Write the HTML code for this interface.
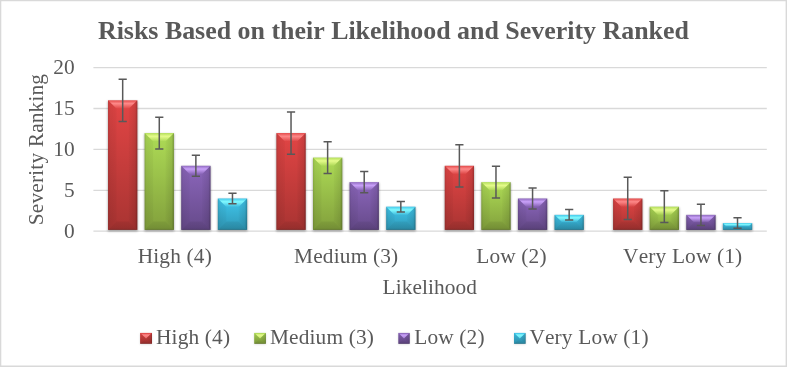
<!DOCTYPE html>
<html><head><meta charset="utf-8"><title>Risks Based on their Likelihood and Severity Ranked</title>
<style>
html,body{margin:0;padding:0;background:#fff;}
body{width:787px;height:367px;overflow:hidden;}
svg{display:block;font-family:"Liberation Serif","Times New Roman",serif;fill:#595959;font-kerning:none;}
</style></head><body>
<svg width="787" height="367" viewBox="0 0 787 367">
<defs>
<filter id="sh2" x="-30%" y="-30%" width="160%" height="160%"><feGaussianBlur stdDeviation="0.8"/></filter>
<filter id="sh" x="-30%" y="-30%" width="160%" height="160%"><feGaussianBlur stdDeviation="1.3"/></filter>
<linearGradient id="hiTop" x1="0" y1="0" x2="0" y2="1"><stop offset="0" stop-color="#fff" stop-opacity="0.10"/><stop offset="0.35" stop-color="#fff" stop-opacity="0.20"/><stop offset="1" stop-color="#fff" stop-opacity="0.02"/></linearGradient>
<linearGradient id="shR" x1="0" y1="0" x2="1" y2="0"><stop offset="0" stop-color="#000" stop-opacity="0.02"/><stop offset="0.75" stop-color="#000" stop-opacity="0.10"/><stop offset="1" stop-color="#000" stop-opacity="0.30"/></linearGradient>
<linearGradient id="mR" x1="0" y1="0" x2="1" y2="0"><stop offset="0" stop-color="#000" stop-opacity="0.08"/><stop offset="0.8" stop-color="#000" stop-opacity="0.16"/><stop offset="1" stop-color="#000" stop-opacity="0.32"/></linearGradient>
<linearGradient id="mB" x1="0" y1="0" x2="0" y2="1"><stop offset="0" stop-color="#000" stop-opacity="0.06"/><stop offset="0.8" stop-color="#000" stop-opacity="0.14"/><stop offset="1" stop-color="#000" stop-opacity="0.30"/></linearGradient>
<linearGradient id="shL" x1="0" y1="0" x2="1" y2="0"><stop offset="0" stop-color="#000" stop-opacity="0.17"/><stop offset="0.22" stop-color="#000" stop-opacity="0.07"/><stop offset="1" stop-color="#000" stop-opacity="0.03"/></linearGradient>
<linearGradient id="shB" x1="0" y1="0" x2="0" y2="1"><stop offset="0" stop-color="#000" stop-opacity="0.06"/><stop offset="0.8" stop-color="#000" stop-opacity="0.11"/><stop offset="1" stop-color="#000" stop-opacity="0.24"/></linearGradient>
<linearGradient id="g_red" x1="0" y1="0" x2="0" y2="1"><stop offset="0" stop-color="#e24545"/><stop offset="1" stop-color="#a93432"/></linearGradient>
<linearGradient id="m_red" x1="0" y1="0" x2="0" y2="1"><stop offset="0" stop-color="#ff8c8c" stop-opacity="0.25"/><stop offset="0.3" stop-color="#ff8c8c" stop-opacity="0.95"/><stop offset="1" stop-color="#ff8c8c" stop-opacity="0.55"/></linearGradient>
<linearGradient id="h_red" x1="0" y1="0" x2="0" y2="1"><stop offset="0" stop-color="#ff8c8c" stop-opacity="0.05"/><stop offset="0.12" stop-color="#ff8c8c" stop-opacity="0.35"/><stop offset="0.38" stop-color="#ff8c8c" stop-opacity="0.95"/><stop offset="1" stop-color="#ff8c8c" stop-opacity="0"/></linearGradient>
<linearGradient id="g_green" x1="0" y1="0" x2="0" y2="1"><stop offset="0" stop-color="#aedc56"/><stop offset="1" stop-color="#82a03c"/></linearGradient>
<linearGradient id="m_green" x1="0" y1="0" x2="0" y2="1"><stop offset="0" stop-color="#e8fd8e" stop-opacity="0.25"/><stop offset="0.3" stop-color="#e8fd8e" stop-opacity="0.95"/><stop offset="1" stop-color="#e8fd8e" stop-opacity="0.55"/></linearGradient>
<linearGradient id="h_green" x1="0" y1="0" x2="0" y2="1"><stop offset="0" stop-color="#e8fd8e" stop-opacity="0.05"/><stop offset="0.12" stop-color="#e8fd8e" stop-opacity="0.35"/><stop offset="0.38" stop-color="#e8fd8e" stop-opacity="0.95"/><stop offset="1" stop-color="#e8fd8e" stop-opacity="0"/></linearGradient>
<linearGradient id="g_purple" x1="0" y1="0" x2="0" y2="1"><stop offset="0" stop-color="#8b66bb"/><stop offset="1" stop-color="#664a8a"/></linearGradient>
<linearGradient id="m_purple" x1="0" y1="0" x2="0" y2="1"><stop offset="0" stop-color="#cca4fc" stop-opacity="0.25"/><stop offset="0.3" stop-color="#cca4fc" stop-opacity="0.95"/><stop offset="1" stop-color="#cca4fc" stop-opacity="0.55"/></linearGradient>
<linearGradient id="h_purple" x1="0" y1="0" x2="0" y2="1"><stop offset="0" stop-color="#cca4fc" stop-opacity="0.05"/><stop offset="0.12" stop-color="#cca4fc" stop-opacity="0.35"/><stop offset="0.38" stop-color="#cca4fc" stop-opacity="0.95"/><stop offset="1" stop-color="#cca4fc" stop-opacity="0"/></linearGradient>
<linearGradient id="g_cyan" x1="0" y1="0" x2="0" y2="1"><stop offset="0" stop-color="#40c6ec"/><stop offset="1" stop-color="#2f98b6"/></linearGradient>
<linearGradient id="m_cyan" x1="0" y1="0" x2="0" y2="1"><stop offset="0" stop-color="#84fcff" stop-opacity="0.25"/><stop offset="0.3" stop-color="#84fcff" stop-opacity="0.95"/><stop offset="1" stop-color="#84fcff" stop-opacity="0.55"/></linearGradient>
<linearGradient id="h_cyan" x1="0" y1="0" x2="0" y2="1"><stop offset="0" stop-color="#84fcff" stop-opacity="0.05"/><stop offset="0.12" stop-color="#84fcff" stop-opacity="0.35"/><stop offset="0.38" stop-color="#84fcff" stop-opacity="0.95"/><stop offset="1" stop-color="#84fcff" stop-opacity="0"/></linearGradient>
</defs>
<path d="M0 0H787V367H0Z M1.3 1.2V365.4H785.6V1.2Z" fill="#d9d9d9" fill-rule="evenodd"/>
<line x1="93.4" x2="766.8" y1="231.20" y2="231.20" stroke="#d9d9d9" stroke-width="1.33"/>
<line x1="93.4" x2="766.8" y1="190.30" y2="190.30" stroke="#d9d9d9" stroke-width="1.33"/>
<line x1="93.4" x2="766.8" y1="149.40" y2="149.40" stroke="#d9d9d9" stroke-width="1.33"/>
<line x1="93.4" x2="766.8" y1="108.50" y2="108.50" stroke="#d9d9d9" stroke-width="1.33"/>
<line x1="93.4" x2="766.8" y1="67.60" y2="67.60" stroke="#d9d9d9" stroke-width="1.33"/>
<text x="393.4" y="38.6" text-anchor="middle" font-size="25.92" font-weight="bold">Risks Based on their Likelihood and Severity Ranked</text>
<text x="74.6" y="237.80" text-anchor="end" font-size="21.33">0</text>
<text x="74.6" y="196.90" text-anchor="end" font-size="21.33">5</text>
<text x="74.6" y="156.00" text-anchor="end" font-size="21.33">10</text>
<text x="74.6" y="115.10" text-anchor="end" font-size="21.33">15</text>
<text x="74.6" y="74.20" text-anchor="end" font-size="21.33">20</text>
<text transform="translate(42.7,149.5) rotate(-90)" text-anchor="middle" font-size="21.33" letter-spacing="0.17">Severity Ranking</text>
<g><rect x="107.74" y="101.12" width="29.88" height="130.18" fill="#000" opacity="0.33" filter="url(#sh)"/><rect x="108.04" y="100.32" width="29.28" height="129.58" fill="url(#g_red)"/><polygon points="108.04,100.32 137.32,100.32 128.82,108.82 116.54,108.82" fill="url(#h_red)"/><polygon points="108.04,100.32 116.54,108.82 116.54,221.40 108.04,229.90" fill="url(#shL)"/><polygon points="137.32,100.32 137.32,229.90 128.82,221.40 128.82,108.82" fill="url(#shR)"/><polygon points="108.04,229.90 116.54,221.40 128.82,221.40 137.32,229.90" fill="url(#shB)"/></g>
<g><rect x="144.34" y="133.84" width="29.88" height="97.46" fill="#000" opacity="0.33" filter="url(#sh)"/><rect x="144.64" y="133.04" width="29.28" height="96.86" fill="url(#g_green)"/><polygon points="144.64,133.04 173.92,133.04 165.42,141.54 153.14,141.54" fill="url(#h_green)"/><polygon points="144.64,133.04 153.14,141.54 153.14,221.40 144.64,229.90" fill="url(#shL)"/><polygon points="173.92,133.04 173.92,229.90 165.42,221.40 165.42,141.54" fill="url(#shR)"/><polygon points="144.64,229.90 153.14,221.40 165.42,221.40 173.92,229.90" fill="url(#shB)"/></g>
<g><rect x="180.93" y="166.56" width="29.88" height="64.74" fill="#000" opacity="0.33" filter="url(#sh)"/><rect x="181.23" y="165.76" width="29.28" height="64.14" fill="url(#g_purple)"/><polygon points="181.23,165.76 210.51,165.76 202.01,174.26 189.73,174.26" fill="url(#h_purple)"/><polygon points="181.23,165.76 189.73,174.26 189.73,221.40 181.23,229.90" fill="url(#shL)"/><polygon points="210.51,165.76 210.51,229.90 202.01,221.40 202.01,174.26" fill="url(#shR)"/><polygon points="181.23,229.90 189.73,221.40 202.01,221.40 210.51,229.90" fill="url(#shB)"/></g>
<g><rect x="217.53" y="199.28" width="29.88" height="32.02" fill="#000" opacity="0.33" filter="url(#sh)"/><rect x="217.83" y="198.48" width="29.28" height="31.42" fill="url(#g_cyan)"/><polygon points="217.83,198.48 247.11,198.48 238.61,206.98 226.33,206.98" fill="url(#h_cyan)"/><polygon points="217.83,198.48 226.33,206.98 226.33,221.40 217.83,229.90" fill="url(#shL)"/><polygon points="247.11,198.48 247.11,229.90 238.61,221.40 238.61,206.98" fill="url(#shR)"/><polygon points="217.83,229.90 226.33,221.40 238.61,221.40 247.11,229.90" fill="url(#shB)"/></g>
<path d="M122.68 79.20V121.44M118.58 79.20H126.78M118.58 121.44H126.78" stroke="#595959" stroke-width="1.5" fill="none"/>
<path d="M159.28 117.20V148.88M155.18 117.20H163.38M155.18 148.88H163.38" stroke="#595959" stroke-width="1.5" fill="none"/>
<path d="M195.87 155.20V176.32M191.77 155.20H199.97M191.77 176.32H199.97" stroke="#595959" stroke-width="1.5" fill="none"/>
<path d="M232.47 193.20V203.76M228.37 193.20H236.57M228.37 203.76H236.57" stroke="#595959" stroke-width="1.5" fill="none"/>
<g><rect x="276.09" y="133.84" width="29.88" height="97.46" fill="#000" opacity="0.33" filter="url(#sh)"/><rect x="276.39" y="133.04" width="29.28" height="96.86" fill="url(#g_red)"/><polygon points="276.39,133.04 305.67,133.04 297.17,141.54 284.89,141.54" fill="url(#h_red)"/><polygon points="276.39,133.04 284.89,141.54 284.89,221.40 276.39,229.90" fill="url(#shL)"/><polygon points="305.67,133.04 305.67,229.90 297.17,221.40 297.17,141.54" fill="url(#shR)"/><polygon points="276.39,229.90 284.89,221.40 297.17,221.40 305.67,229.90" fill="url(#shB)"/></g>
<g><rect x="312.69" y="158.38" width="29.88" height="72.92" fill="#000" opacity="0.33" filter="url(#sh)"/><rect x="312.99" y="157.58" width="29.28" height="72.32" fill="url(#g_green)"/><polygon points="312.99,157.58 342.27,157.58 333.77,166.08 321.49,166.08" fill="url(#h_green)"/><polygon points="312.99,157.58 321.49,166.08 321.49,221.40 312.99,229.90" fill="url(#shL)"/><polygon points="342.27,157.58 342.27,229.90 333.77,221.40 333.77,166.08" fill="url(#shR)"/><polygon points="312.99,229.90 321.49,221.40 333.77,221.40 342.27,229.90" fill="url(#shB)"/></g>
<g><rect x="349.28" y="182.92" width="29.88" height="48.38" fill="#000" opacity="0.33" filter="url(#sh)"/><rect x="349.58" y="182.12" width="29.28" height="47.78" fill="url(#g_purple)"/><polygon points="349.58,182.12 378.86,182.12 370.36,190.62 358.08,190.62" fill="url(#h_purple)"/><polygon points="349.58,182.12 358.08,190.62 358.08,221.40 349.58,229.90" fill="url(#shL)"/><polygon points="378.86,182.12 378.86,229.90 370.36,221.40 370.36,190.62" fill="url(#shR)"/><polygon points="349.58,229.90 358.08,221.40 370.36,221.40 378.86,229.90" fill="url(#shB)"/></g>
<g><rect x="385.88" y="207.46" width="29.88" height="23.84" fill="#000" opacity="0.33" filter="url(#sh)"/><rect x="386.18" y="206.66" width="29.28" height="23.24" fill="url(#g_cyan)"/><polygon points="386.18,206.66 415.46,206.66 406.96,215.16 394.68,215.16" fill="url(#h_cyan)"/><polygon points="386.18,206.66 394.68,215.16 394.68,221.40 386.18,229.90" fill="url(#shL)"/><polygon points="415.46,206.66 415.46,229.90 406.96,221.40 406.96,215.16" fill="url(#shR)"/><polygon points="386.18,229.90 394.68,221.40 406.96,221.40 415.46,229.90" fill="url(#shB)"/></g>
<path d="M291.03 111.92V154.16M286.93 111.92H295.13M286.93 154.16H295.13" stroke="#595959" stroke-width="1.5" fill="none"/>
<path d="M327.63 141.74V173.42M323.53 141.74H331.73M323.53 173.42H331.73" stroke="#595959" stroke-width="1.5" fill="none"/>
<path d="M364.22 171.56V192.68M360.12 171.56H368.32M360.12 192.68H368.32" stroke="#595959" stroke-width="1.5" fill="none"/>
<path d="M400.82 201.38V211.94M396.72 201.38H404.92M396.72 211.94H404.92" stroke="#595959" stroke-width="1.5" fill="none"/>
<g><rect x="444.44" y="166.56" width="29.88" height="64.74" fill="#000" opacity="0.33" filter="url(#sh)"/><rect x="444.74" y="165.76" width="29.28" height="64.14" fill="url(#g_red)"/><polygon points="444.74,165.76 474.02,165.76 465.52,174.26 453.24,174.26" fill="url(#h_red)"/><polygon points="444.74,165.76 453.24,174.26 453.24,221.40 444.74,229.90" fill="url(#shL)"/><polygon points="474.02,165.76 474.02,229.90 465.52,221.40 465.52,174.26" fill="url(#shR)"/><polygon points="444.74,229.90 453.24,221.40 465.52,221.40 474.02,229.90" fill="url(#shB)"/></g>
<g><rect x="481.04" y="182.92" width="29.88" height="48.38" fill="#000" opacity="0.33" filter="url(#sh)"/><rect x="481.34" y="182.12" width="29.28" height="47.78" fill="url(#g_green)"/><polygon points="481.34,182.12 510.62,182.12 502.12,190.62 489.84,190.62" fill="url(#h_green)"/><polygon points="481.34,182.12 489.84,190.62 489.84,221.40 481.34,229.90" fill="url(#shL)"/><polygon points="510.62,182.12 510.62,229.90 502.12,221.40 502.12,190.62" fill="url(#shR)"/><polygon points="481.34,229.90 489.84,221.40 502.12,221.40 510.62,229.90" fill="url(#shB)"/></g>
<g><rect x="517.63" y="199.28" width="29.88" height="32.02" fill="#000" opacity="0.33" filter="url(#sh)"/><rect x="517.93" y="198.48" width="29.28" height="31.42" fill="url(#g_purple)"/><polygon points="517.93,198.48 547.21,198.48 538.71,206.98 526.43,206.98" fill="url(#h_purple)"/><polygon points="517.93,198.48 526.43,206.98 526.43,221.40 517.93,229.90" fill="url(#shL)"/><polygon points="547.21,198.48 547.21,229.90 538.71,221.40 538.71,206.98" fill="url(#shR)"/><polygon points="517.93,229.90 526.43,221.40 538.71,221.40 547.21,229.90" fill="url(#shB)"/></g>
<g><rect x="554.23" y="215.64" width="29.88" height="15.66" fill="#000" opacity="0.33" filter="url(#sh)"/><rect x="554.53" y="214.84" width="29.28" height="15.06" fill="url(#g_cyan)"/><polygon points="554.53,214.84 583.81,214.84 576.28,222.37 562.06,222.37" fill="url(#h_cyan)"/><polygon points="554.53,214.84 562.06,222.37 562.06,222.37 554.53,229.90" fill="url(#shL)"/><polygon points="583.81,214.84 583.81,229.90 576.28,222.37 576.28,222.37" fill="url(#shR)"/><polygon points="554.53,229.90 562.06,222.37 576.28,222.37 583.81,229.90" fill="url(#shB)"/></g>
<path d="M459.38 144.64V186.88M455.28 144.64H463.48M455.28 186.88H463.48" stroke="#595959" stroke-width="1.5" fill="none"/>
<path d="M495.98 166.28V197.96M491.88 166.28H500.08M491.88 197.96H500.08" stroke="#595959" stroke-width="1.5" fill="none"/>
<path d="M532.57 187.92V209.04M528.47 187.92H536.67M528.47 209.04H536.67" stroke="#595959" stroke-width="1.5" fill="none"/>
<path d="M569.17 209.56V220.12M565.07 209.56H573.27M565.07 220.12H573.27" stroke="#595959" stroke-width="1.5" fill="none"/>
<g><rect x="612.79" y="199.28" width="29.88" height="32.02" fill="#000" opacity="0.33" filter="url(#sh)"/><rect x="613.09" y="198.48" width="29.28" height="31.42" fill="url(#g_red)"/><polygon points="613.09,198.48 642.37,198.48 633.87,206.98 621.59,206.98" fill="url(#h_red)"/><polygon points="613.09,198.48 621.59,206.98 621.59,221.40 613.09,229.90" fill="url(#shL)"/><polygon points="642.37,198.48 642.37,229.90 633.87,221.40 633.87,206.98" fill="url(#shR)"/><polygon points="613.09,229.90 621.59,221.40 633.87,221.40 642.37,229.90" fill="url(#shB)"/></g>
<g><rect x="649.39" y="207.46" width="29.88" height="23.84" fill="#000" opacity="0.33" filter="url(#sh)"/><rect x="649.69" y="206.66" width="29.28" height="23.24" fill="url(#g_green)"/><polygon points="649.69,206.66 678.97,206.66 670.47,215.16 658.19,215.16" fill="url(#h_green)"/><polygon points="649.69,206.66 658.19,215.16 658.19,221.40 649.69,229.90" fill="url(#shL)"/><polygon points="678.97,206.66 678.97,229.90 670.47,221.40 670.47,215.16" fill="url(#shR)"/><polygon points="649.69,229.90 658.19,221.40 670.47,221.40 678.97,229.90" fill="url(#shB)"/></g>
<g><rect x="685.98" y="215.64" width="29.88" height="15.66" fill="#000" opacity="0.33" filter="url(#sh)"/><rect x="686.28" y="214.84" width="29.28" height="15.06" fill="url(#g_purple)"/><polygon points="686.28,214.84 715.56,214.84 708.03,222.37 693.81,222.37" fill="url(#h_purple)"/><polygon points="686.28,214.84 693.81,222.37 693.81,222.37 686.28,229.90" fill="url(#shL)"/><polygon points="715.56,214.84 715.56,229.90 708.03,222.37 708.03,222.37" fill="url(#shR)"/><polygon points="686.28,229.90 693.81,222.37 708.03,222.37 715.56,229.90" fill="url(#shB)"/></g>
<g><rect x="722.58" y="223.82" width="29.88" height="7.48" fill="#000" opacity="0.33" filter="url(#sh)"/><rect x="722.88" y="223.02" width="29.28" height="6.88" fill="url(#g_cyan)"/><polygon points="722.88,223.02 752.16,223.02 748.72,226.46 726.32,226.46" fill="url(#h_cyan)"/><polygon points="722.88,223.02 726.32,226.46 726.32,226.46 722.88,229.90" fill="url(#shL)"/><polygon points="752.16,223.02 752.16,229.90 748.72,226.46 748.72,226.46" fill="url(#shR)"/><polygon points="722.88,229.90 726.32,226.46 748.72,226.46 752.16,229.90" fill="url(#shB)"/></g>
<path d="M627.73 177.36V219.60M623.63 177.36H631.83M623.63 219.60H631.83" stroke="#595959" stroke-width="1.5" fill="none"/>
<path d="M664.33 190.82V222.50M660.23 190.82H668.43M660.23 222.50H668.43" stroke="#595959" stroke-width="1.5" fill="none"/>
<path d="M700.92 204.28V225.40M696.82 204.28H705.02M696.82 225.40H705.02" stroke="#595959" stroke-width="1.5" fill="none"/>
<path d="M737.52 217.74V228.30M733.42 217.74H741.62M733.42 228.30H741.62" stroke="#595959" stroke-width="1.5" fill="none"/>
<text x="137.7" y="263.4" font-size="21.33" letter-spacing="0.17">High (4)</text>
<text x="294.1" y="263.4" font-size="21.33" letter-spacing="0.17">Medium (3)</text>
<text x="476.2" y="263.4" font-size="21.33" letter-spacing="0.17">Low (2)</text>
<text x="623.1" y="263.4" font-size="21.33" letter-spacing="0.17">Very Low (1)</text>
<text x="382.5" y="293.6" font-size="21.33" letter-spacing="0.1">Likelihood</text>
<g><rect x="140.10" y="333.50" width="11.90" height="10.90" fill="#000" opacity="0.14" filter="url(#sh2)"/><rect x="140.10" y="332.90" width="11.90" height="10.90" fill="url(#g_red)"/><polygon points="140.90,333.50 151.20,333.50 146.05,338.55" fill="url(#m_red)"/><polygon points="140.10,332.90 146.05,338.55 140.10,343.80" fill="#000" opacity="0.07"/><polygon points="152.00,332.90 152.00,343.80 146.05,338.55" fill="url(#mR)"/><polygon points="140.10,343.80 146.05,338.55 152.00,343.80" fill="url(#mB)"/></g>
<text x="156.0" y="344" font-size="21.33" letter-spacing="0.17">High (4)</text>
<g><rect x="254.20" y="333.50" width="11.70" height="10.90" fill="#000" opacity="0.14" filter="url(#sh2)"/><rect x="254.20" y="332.90" width="11.70" height="10.90" fill="url(#g_green)"/><polygon points="255.00,333.50 265.10,333.50 260.05,338.55" fill="url(#m_green)"/><polygon points="254.20,332.90 260.05,338.55 254.20,343.80" fill="#000" opacity="0.07"/><polygon points="265.90,332.90 265.90,343.80 260.05,338.55" fill="url(#mR)"/><polygon points="254.20,343.80 260.05,338.55 265.90,343.80" fill="url(#mB)"/></g>
<text x="269.9" y="344" font-size="21.33" letter-spacing="0.17">Medium (3)</text>
<g><rect x="398.30" y="333.50" width="11.40" height="10.90" fill="#000" opacity="0.14" filter="url(#sh2)"/><rect x="398.30" y="332.90" width="11.40" height="10.90" fill="url(#g_purple)"/><polygon points="399.10,333.50 408.90,333.50 404.00,338.55" fill="url(#m_purple)"/><polygon points="398.30,332.90 404.00,338.55 398.30,343.80" fill="#000" opacity="0.07"/><polygon points="409.70,332.90 409.70,343.80 404.00,338.55" fill="url(#mR)"/><polygon points="398.30,343.80 404.00,338.55 409.70,343.80" fill="url(#mB)"/></g>
<text x="414.2" y="344" font-size="21.33" letter-spacing="0.17">Low (2)</text>
<g><rect x="514.00" y="333.50" width="11.60" height="10.90" fill="#000" opacity="0.14" filter="url(#sh2)"/><rect x="514.00" y="332.90" width="11.60" height="10.90" fill="url(#g_cyan)"/><polygon points="514.80,333.50 524.80,333.50 519.80,338.55" fill="url(#m_cyan)"/><polygon points="514.00,332.90 519.80,338.55 514.00,343.80" fill="#000" opacity="0.07"/><polygon points="525.60,332.90 525.60,343.80 519.80,338.55" fill="url(#mR)"/><polygon points="514.00,343.80 519.80,338.55 525.60,343.80" fill="url(#mB)"/></g>
<text x="529.4" y="344" font-size="21.33" letter-spacing="0.17">Very Low (1)</text>
</svg></body></html>
